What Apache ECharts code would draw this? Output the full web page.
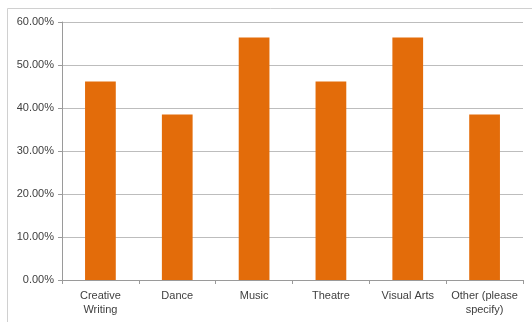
<!DOCTYPE html>
<html>
<head>
<meta charset="utf-8">
<script src="https://cdn.jsdelivr.net/npm/echarts@6/dist/echarts.min.js"></script>
<style>
html,body{margin:0;padding:0;background:#fff;}
#c{width:532px;height:322px;}
</style>
</head>
<body>
<div id="c"></div>
<script>
const categories = ['Creative\nWriting', 'Dance', 'Music', 'Theatre', 'Visual Arts', 'Other (please\nspecify)'];
const values = [46.15, 38.46, 56.41, 46.15, 56.41, 38.46];
const yTicks = [0, 10, 20, 30, 40, 50, 60];

const chart = echarts.init(document.getElementById('c'), null, {renderer: 'canvas'});
const font = '"Liberation Sans", Arial, sans-serif';
chart.setOption({
  animation: false,
  backgroundColor: '#ffffff',
  graphic: [{
    type: 'rect',
    shape: {x: 7.5, y: 8.5, width: 600, height: 400},
    style: {fill: 'none', stroke: '#d0d0d0', lineWidth: 1},
    silent: true
  }],
  grid: {left: 62, right: 9, top: 22, bottom: 42},
  xAxis: {
    type: 'category',
    data: categories,
    axisLine: {lineStyle: {color: '#9a9a9a', width: 1}},
    axisTick: {show: true, alignWithLabel: false, length: 4, lineStyle: {color: '#9a9a9a'}},
    axisLabel: {
      color: '#404040', fontSize: 11, fontFamily: font, lineHeight: 14, margin: 9,
      interval: 0
    }
  },
  yAxis: {
    type: 'value',
    min: yTicks[0],
    max: yTicks[yTicks.length - 1],
    interval: 10,
    axisLine: {show: true, lineStyle: {color: '#9a9a9a', width: 1}},
    axisTick: {show: true, length: 4, lineStyle: {color: '#9a9a9a'}},
    splitLine: {show: true, lineStyle: {color: '#bdbdbd', width: 1}},
    axisLabel: {
      color: '#404040', fontSize: 11, fontFamily: font, margin: 8,
      formatter: v => v.toFixed(2) + '%'
    }
  },
  series: [{
    type: 'bar',
    data: values,
    barWidth: '40%',
    itemStyle: {color: '#E36C0A'}
  }]
});
</script>
</body>
</html>
